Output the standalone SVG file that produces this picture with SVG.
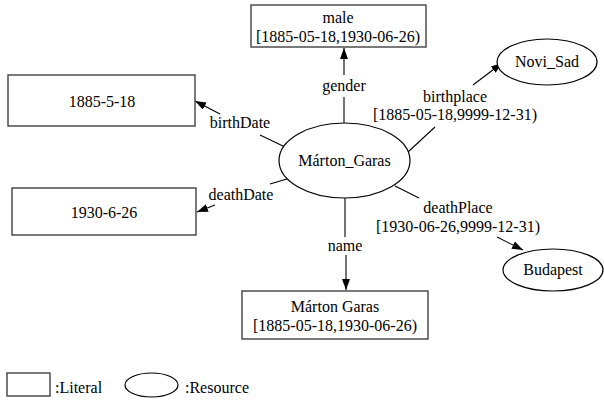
<svg xmlns="http://www.w3.org/2000/svg" width="604" height="402" viewBox="0 0 604 402">
<style>
text{font-family:"Liberation Serif","Times New Roman",serif;font-size:16px;fill:#000;text-anchor:middle}
.box{fill:#fff;stroke:#404040;stroke-width:1.4}
.res{fill:#fff;stroke:#000;stroke-width:1.2}
.ln{stroke:#000;stroke-width:1.1;fill:none}
.lt{text-anchor:start}
</style>
<defs>
<marker id="ah" markerUnits="userSpaceOnUse" markerWidth="12" markerHeight="8" refX="11" refY="4" orient="auto">
<path d="M0,0 L11,4 L0,8 z" fill="#000"/>
</marker>
</defs>
<g id="connectors">
<line class="ln" x1="344" y1="123" x2="344" y2="97"/>
<line class="ln" x1="344" y1="75" x2="344" y2="48" marker-end="url(#ah)"/>
<text x="344" y="91">gender</text>
<line class="ln" x1="285" y1="147" x2="260" y2="135"/>
<line class="ln" x1="220" y1="114" x2="195" y2="101" marker-end="url(#ah)"/>
<text x="240" y="128">birthDate</text>
<line class="ln" x1="287" y1="179" x2="270" y2="184"/>
<line class="ln" x1="215" y1="205" x2="197" y2="212" marker-end="url(#ah)"/>
<text x="241" y="200">deathDate</text>
<line class="ln" x1="408" y1="152" x2="435" y2="127"/>
<line class="ln" x1="473" y1="85" x2="502" y2="63" marker-end="url(#ah)"/>
<text x="455" y="102">birthplace</text>
<text x="455" y="120">[1885-05-18,9999-12-31)</text>
<line class="ln" x1="395" y1="186" x2="419" y2="198"/>
<line class="ln" x1="497" y1="237" x2="523" y2="250" marker-end="url(#ah)"/>
<text x="458" y="213">deathPlace</text>
<text x="458" y="232">[1930-06-26,9999-12-31)</text>
<line class="ln" x1="345" y1="198" x2="345" y2="237"/>
<line class="ln" x1="346" y1="255" x2="346" y2="290" marker-end="url(#ah)"/>
<text x="345" y="251">name</text>
</g>
<g id="male">
<rect class="box" x="251" y="5" width="175" height="42"/>
<text x="338" y="23">male</text>
<text x="338" y="42">[1885-05-18,1930-06-26)</text>
</g>
<g id="birthDateNode">
<rect class="box" x="8" y="75" width="187" height="51"/>
<text x="102" y="107">1885-5-18</text>
</g>
<g id="deathDateNode">
<rect class="box" x="12" y="188" width="184" height="47"/>
<text x="104" y="218">1930-6-26</text>
</g>
<g id="marton">
<ellipse class="res" cx="344.5" cy="160.5" rx="65.5" ry="37.5"/>
<text x="344.5" y="166">Márton_Garas</text>
</g>
<g id="novisad">
<ellipse class="res" cx="547" cy="62" rx="50" ry="23"/>
<text x="547" y="67">Novi_Sad</text>
</g>
<g id="budapest">
<ellipse class="res" cx="553" cy="270" rx="50" ry="21"/>
<text x="553" y="275">Budapest</text>
</g>
<g id="nameNode">
<rect class="box" x="242" y="291" width="186" height="48"/>
<text x="335" y="312">Márton Garas</text>
<text x="335" y="331">[1885-05-18,1930-06-26)</text>
</g>
<g id="legend">
<rect class="box" x="7" y="373" width="43" height="23"/>
<text class="lt" x="55" y="393">:Literal</text>
<ellipse class="res" cx="151.5" cy="385" rx="26.5" ry="12"/>
<text class="lt" x="185" y="393">:Resource</text>
</g>
</svg>
